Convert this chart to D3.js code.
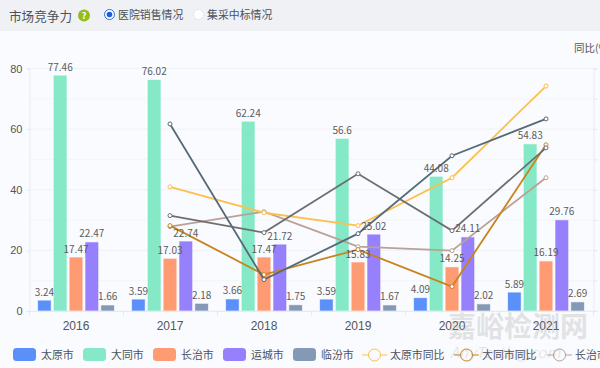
<!DOCTYPE html>
<html>
<head>
<meta charset="utf-8">
<script src="https://cdn.jsdelivr.net/npm/d3@7"></script>
<style>
html, body { margin: 0; padding: 0; background: #fafbfe; overflow: hidden; }
svg { display: block; font-family: "Noto Sans CJK SC", "Noto Sans", sans-serif; }
</style>
</head>
<body>
<div id="chart"></div>
<script>
const years = ["2016", "2017", "2018", "2019", "2020", "2021"];
const barNames = ["太原市", "大同市", "长治市", "运城市", "临汾市"];
const barColors = ["#5b8ff9", "#85e8c6", "#ff9b73", "#9680fb", "#8499b5"];
const taiyuan = [3.24, 3.59, 3.66, 3.59, 4.09, 5.89];
const datong = [77.46, 76.02, 62.24, 56.6, 44.08, 54.83];
const changzhi = [17.47, 17.03, 17.47, 15.83, 14.25, 16.19];
const yuncheng = [22.47, 22.74, 21.72, 25.02, 24.11, 29.76];
const linfen = [1.66, 2.18, 1.75, 1.67, 2.02, 2.69];
const barSeries = [taiyuan, datong, changzhi, yuncheng, linfen];

// right axis labels are cut off in the picture, so yoy values are estimates
const lineYears = ["2017", "2018", "2019", "2020", "2021"];
const taiyuanYoy = [21.6, 4.5, -4, 27.6, 88.1];
const datongYoy = [-4, -36.3, -19.8, -44.2, 49.3];
const changzhiYoy = [-4.7, 5.2, -17.9, -20.5, 27.6];
const yunchengYoy = [2.6, -8.6, 30.2, -7.3, 47.3];
const linfenYoy = [63.1, -39.6, -9.3, 42.1, 66.4];
const lineSeries = [changzhiYoy, taiyuanYoy, datongYoy, yunchengYoy, linfenYoy];
const lineColors = ["#b9a195", "#fcc04f", "#c8841c", "#6b6f73", "#566a78"];

const legendNames = ["太原市", "大同市", "长治市", "运城市", "临汾市", "太原市同比", "大同市同比", "长治市同比"];

const svg = d3.select("#chart").append("svg").attr("width", 600).attr("height", 368);

// header strip
svg.append("rect").attr("width", 600).attr("height", 31).attr("fill", "#eff1f5");
svg.append("text").attr("x", 9).attr("y", 20.5).attr("font-size", 12.6).attr("fill", "#4a5260").text("市场竞争力");
svg.append("circle").attr("cx", 84).attr("cy", 15.5).attr("r", 6).attr("fill", "#94bd1c");
svg.append("text").attr("x", 84).attr("y", 19).attr("text-anchor", "middle").attr("font-size", 9).attr("font-weight", 700).attr("fill", "#fff").text("?");
svg.append("circle").attr("cx", 109.5).attr("cy", 14.5).attr("r", 5).attr("fill", "#fff").attr("stroke", "#2d6fdc");
svg.append("circle").attr("cx", 109.5).attr("cy", 14.5).attr("r", 2.8).attr("fill", "#1a5fd8");
svg.append("text").attr("x", 118).attr("y", 19).attr("font-size", 10.9).attr("fill", "#4a5260").text("医院销售情况");
svg.append("circle").attr("cx", 198.5).attr("cy", 14.5).attr("r", 5).attr("fill", "#fff").attr("stroke", "#e4e7ee");
svg.append("text").attr("x", 207).attr("y", 19).attr("font-size", 10.9).attr("fill", "#4a5260").text("集采中标情况");

svg.append("text").attr("x", 574).attr("y", 52).attr("font-size", 10.5).attr("fill", "#555").text("同比(%)");

const x = d3.scaleBand().domain(years).range([29, 593]);
const y = d3.scaleLinear().domain([0, 80]).range([310.5, 68]);
const yRight = d3.scaleLinear().domain([-60, 100]).range([310.5, 68]);
const barX = d3.scaleBand().domain(d3.range(5)).range([x.bandwidth() * 0.0965, x.bandwidth() * 0.9035]).paddingInner(0.2);

// gridlines every 10
const gridVals = d3.range(0, 90, 10);
svg.append("g").selectAll("line").data(gridVals).join("line")
    .attr("x1", 29).attr("x2", 597)
    .attr("y1", d => y(d) + 0.5).attr("y2", d => y(d) + 0.5)
    .attr("stroke", d => d % 20 == 0 ? "#eef1f6" : "#f3f5f9");

// axes
const leftAxis = svg.append("g").attr("transform", "translate(29.5,0.5)")
    .call(d3.axisLeft(y).tickValues([0, 20, 40, 60, 80]).tickSize(3).tickPadding(4));
leftAxis.selectAll("text").attr("font-size", 11).attr("font-family", "inherit").attr("fill", "#555");
leftAxis.selectAll("line,path").attr("stroke", "#e6ebf2");

const bottomAxis = svg.append("g").attr("transform", "translate(0,311)")
    .call(d3.axisBottom(x).tickSize(0).tickPadding(10));
bottomAxis.selectAll("text").attr("font-size", 12).attr("font-family", "inherit").attr("fill", "#555");
bottomAxis.select("path").attr("stroke", "#e6ebf2");
svg.append("g").selectAll("line").data(d3.range(7)).join("line")
    .attr("x1", i => 29.5 + i * x.step()).attr("x2", i => 29.5 + i * x.step())
    .attr("y1", 311).attr("y2", 316).attr("stroke", "#e6ebf2");

const rightAxis = svg.append("g").attr("transform", "translate(593.5,0.5)")
    .call(d3.axisRight(yRight).tickValues(d3.range(-60, 120, 20)).tickSize(4).tickFormat(""));
rightAxis.selectAll("line,path").attr("stroke", "#e6ebf2");

// bars
const barGroup = svg.append("g");
barSeries.forEach((vals, s) => {
    barGroup.selectAll(null).data(vals).join("rect")
        .attr("x", (d, i) => x(years[i]) + barX(s))
        .attr("y", d => y(d))
        .attr("width", barX.bandwidth())
        .attr("height", d => y(0) - y(d))
        .attr("fill", barColors[s])
        .attr("stroke", barColors[s])
        .attr("stroke-opacity", 0.35);
});

// yoy lines
const lineX = d => x(d) + x.bandwidth() / 2;
const lineGen = d3.line().x((d, i) => lineX(lineYears[i])).y(d => yRight(d));
lineSeries.forEach((vals, s) => {
    svg.append("path").datum(vals)
        .attr("d", lineGen)
        .attr("fill", "none")
        .attr("stroke", lineColors[s])
        .attr("stroke-width", 1.8);
    svg.append("g").selectAll("circle").data(vals).join("circle")
        .attr("cx", (d, i) => lineX(lineYears[i]))
        .attr("cy", d => yRight(d))
        .attr("r", 2)
        .attr("fill", "#fff")
        .attr("stroke", lineColors[s]);
});

// value labels
const labelGroup = svg.append("g");
barSeries.forEach((vals, s) => {
    labelGroup.selectAll(null).data(vals).join("text")
        .attr("x", (d, i) => x(years[i]) + barX(s) + barX.bandwidth() / 2)
        .attr("y", d => y(d) - 5)
        .attr("text-anchor", "middle")
        .attr("font-size", 10)
        .attr("fill", "#5c5c5c")
        .text(d => d);
});

// legend, runs off the right edge like the original
const legendX = [13, 83, 153, 223, 293];
barNames.forEach((name, i) => {
    svg.append("rect").attr("x", legendX[i]).attr("y", 348).attr("width", 23).attr("height", 13).attr("rx", 3.5).attr("fill", barColors[i]);
    svg.append("text").attr("x", legendX[i] + 28).attr("y", 358.5).attr("font-size", 10.9).attr("fill", "#4a5260").text(legendNames[i]);
});
const legendLineX = [362, 454, 547];
const legendLineColors = ["#fcc04f", "#c8841c", "#b9a195"];
legendLineX.forEach((lx, i) => {
    svg.append("line").attr("x1", lx).attr("x2", lx + 25).attr("y1", 355).attr("y2", 355).attr("stroke", legendLineColors[i]);
    svg.append("circle").attr("cx", lx + 12.5).attr("cy", 355).attr("r", 6).attr("fill", "#fafbfe").attr("stroke", legendLineColors[i]);
    svg.append("text").attr("x", lx + 28).attr("y", 358.5).attr("font-size", 10.9).attr("fill", "#4a5260").text(legendNames[5 + i]);
});

// watermark
svg.append("text").attr("x", 448).attr("y", 337).attr("font-size", 28).attr("font-weight", 700).attr("fill", "#8c8c8c").attr("opacity", 0.22).text("嘉峪检测网");
svg.append("text").attr("x", 450).attr("y", 358).attr("font-size", 15).attr("font-style", "italic").attr("fill", "#8c8c8c").attr("opacity", 0.18).text("AnyTesting.com");
</script>
</body>
</html>
